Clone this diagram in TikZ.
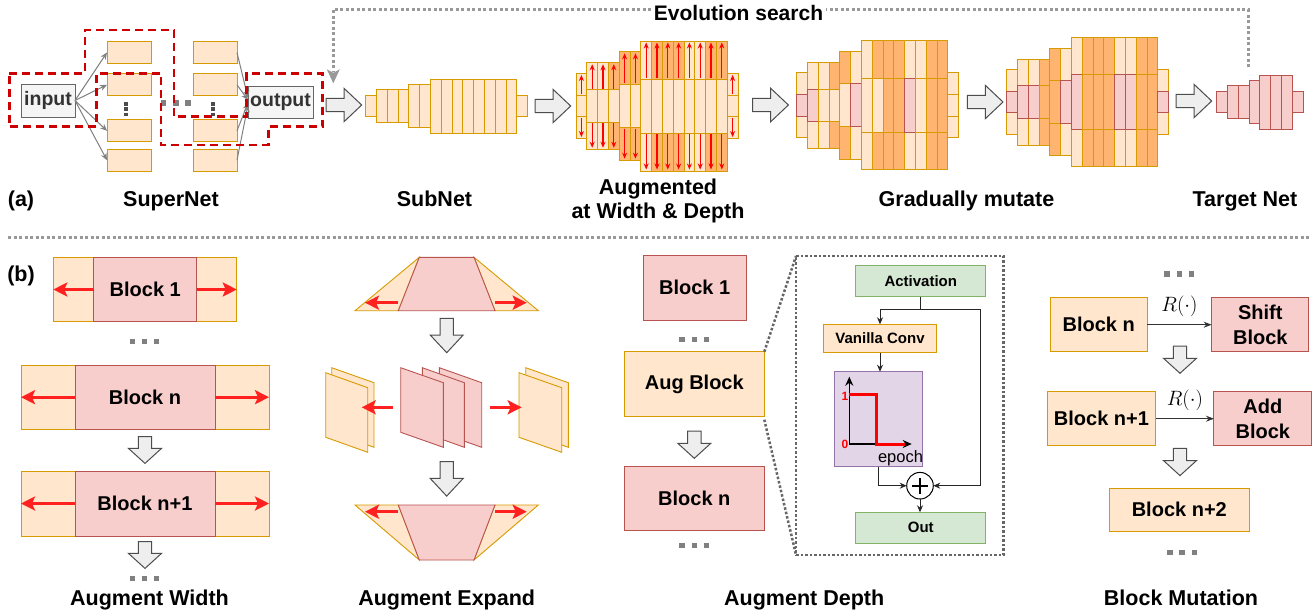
\documentclass[tikz,border=0pt]{standalone}
\usepackage{fontspec}
\setmainfont{Liberation Sans}
\usetikzlibrary{arrows.meta}
\definecolor{orF}{HTML}{FFE6CC}
\definecolor{orS}{HTML}{D79B00}
\definecolor{odF}{HTML}{FFB570}
\definecolor{pkF}{HTML}{F8CECC}
\definecolor{pkS}{HTML}{B85450}
\definecolor{grF}{HTML}{D5E8D4}
\definecolor{grS}{HTML}{82B366}
\definecolor{puF}{HTML}{E1D5E7}
\definecolor{puS}{HTML}{9673A6}
\definecolor{gbF}{HTML}{F5F5F5}
\definecolor{gbS}{HTML}{666666}
\definecolor{baF}{HTML}{EEEEEE}
\definecolor{baS}{HTML}{4D4D4D}
\definecolor{dashR}{HTML}{CC0000}
\definecolor{arR}{HTML}{FF2020}
\definecolor{dotG}{HTML}{999999}
\definecolor{sqG}{HTML}{808080}
\newcommand{\fsLab}{\fontsize{21.5}{24}\selectfont\bfseries}
\newcommand{\fsBlk}{\fontsize{20}{25}\selectfont\bfseries}
\newcommand{\fsSm}{\fontsize{15}{18}\selectfont\bfseries}
% horizontal block arrow: left x, center y
\newcommand{\harrow}[2]{\draw[barrow] (#1,#2-6.7) -- (#1+18,#2-6.7) -- (#1+18,#2-16.7) -- (#1+35.7,#2) -- (#1+18,#2+16.7) -- (#1+18,#2+6.7) -- (#1,#2+6.7) -- cycle;}
% vertical block arrow: center x, top y, shaft length, head length
\newcommand{\darrow}[4]{\draw[barrow] (#1-6.7,#2) -- (#1-6.7,#2+#3) -- (#1-16.5,#2+#3) -- (#1,#2+#3+#4) -- (#1+16.5,#2+#3) -- (#1+6.7,#2+#3) -- (#1+6.7,#2) -- cycle;}
% three gray squares centred at x,y
\newcommand{\gsq}[2]{\draw[gdots] (#1-14.6,#2) -- (#1+15,#2);}
% network: left x, centre y, list, arrows flag
\newcommand{\drawnet}[4]{%
  \foreach \ci/\hh/\ee/\sa/\sb/\sc in {#3}{%
    \pgfmathsetmacro\xl{#1+\ci*10.8}%
    \pgfmathsetmacro\xr{\xl+10.8}%
    \pgfmathsetmacro\xm{\xl+5.4}%
    \pgfmathsetmacro\ya{#2-\hh/2}%
    \pgfmathsetmacro\yb{#2+\hh/2}%
    \pgfmathsetmacro\yt{\ya-\ee}%
    \pgfmathsetmacro\ybb{\yb+\ee}%
    \ifdim\ee pt>0pt
      \filldraw[\sa] (\xl,\yt) rectangle (\xr,\ya);
      \filldraw[\sc] (\xl,\yb) rectangle (\xr,\ybb);
      \ifnum#4=1
        \draw[uarr] (\xm,\ya-1) -- (\xm,\yt+1.5);
        \draw[uarr] (\xm,\yb+1) -- (\xm,\ybb-1.5);
      \fi
    \fi
    \filldraw[\sb] (\xl,\ya) rectangle (\xr,\yb);
  }}
\begin{document}
\begin{tikzpicture}[x=1pt,y=-1pt,
  every node/.style={inner sep=0pt, outer sep=0pt},
  lbl/.style={font=\fsLab, anchor=base, align=center},
  orbox/.style={font=\fsBlk, align=center, draw=orS, fill=orF, line width=1pt, rectangle},
  pkbox/.style={font=\fsBlk, align=center, draw=pkS, fill=pkF, line width=1pt, rectangle},
  grbox/.style={font=\fsSm, draw=grS, fill=grF, line width=1pt, rectangle},
  orsm/.style={font=\fsSm, draw=orS, fill=orF, line width=1pt, rectangle},
  pubox/.style={draw=puS, fill=puF, line width=1pt, rectangle},
  gbox/.style={font=\fontsize{19.5}{20}\selectfont\bfseries, text=black!80, draw=gbS, fill=gbF, line width=1pt, rectangle},
  sblk/.style={draw=orS, fill=orF, line width=1pt, rectangle, minimum width=44pt, minimum height=22pt},
  cL/.style={draw=orS, fill=orF, line width=0.9pt},
  cD/.style={draw=orS, fill=odF, line width=0.9pt},
  cP/.style={draw=pkS, fill=pkF, line width=0.9pt},
  barrow/.style={fill=baF, draw=baS, line width=1pt, line join=miter},
  garr/.style={draw=sqG, line width=1pt, -{Stealth[length=7pt,width=6pt]}},
  uarr/.style={draw=red, line width=1.3pt, -{Stealth[length=6pt,width=5pt]}},
  rarr/.style={draw=arR, line width=3pt, -{Stealth[length=14pt,width=14pt,inset=3pt]}},
  carr/.style={draw=black!85, line width=1pt, -{Stealth[length=7pt,width=6pt]}},
  marr/.style={draw=black!80, line width=1pt, -{Stealth[length=8pt,width=6pt]}},
  reddash/.style={draw=dashR, line width=2.5pt, dash pattern=on 8pt off 5pt},
  evo/.style={draw=dotG, line width=3pt, dash pattern=on 3pt off 2.5pt},
  dbox/.style={draw=gbS, line width=2.5pt, dash pattern=on 2.5pt off 2pt, rectangle},
  dline/.style={draw=gbS, line width=2.5pt, dash pattern=on 2.5pt off 2pt},
  gdots/.style={draw=sqG, line width=5.4pt, dash pattern=on 5.4pt off 6.8pt},
  vdots/.style={draw=black!70, line width=3.5pt, dash pattern=on 3.5pt off 1.8pt},
  plusnode/.style={circle, draw=black, fill=white, line width=1pt, minimum size=26.6pt,
    path picture={\draw[line width=1.8pt] ([xshift=-8pt]path picture bounding box.center) -- ([xshift=8pt]path picture bounding box.center);
                  \draw[line width=1.8pt] ([yshift=-8pt]path picture bounding box.center) -- ([yshift=8pt]path picture bounding box.center);}}
]
\useasboundingbox (0,0) rectangle (1315,613);
\fill[white] (0,0) rectangle (1315,613);

% ================= (a) SuperNet =================
\node[gbox, minimum width=54pt, minimum height=33pt] (inp) at (48,100.5) {input};
\node[gbox, minimum width=65pt, minimum height=32pt] (outp) at (280.5,102) {output};
\node[sblk] (a1) at (129,52.5) {};
\node[sblk] (a2) at (129,84.8) {};
\node[sblk] (a3) at (129,130.8) {};
\node[sblk] (a4) at (129,160.2) {};
\node[sblk] (b1) at (215,52.5) {};
\node[sblk] (b2) at (215,84.8) {};
\node[sblk] (b3) at (215,130.8) {};
\node[sblk] (b4) at (215,160.2) {};
\foreach \t in {a1,a2,a3,a4}{\draw[garr] (inp.east) -- (\t.west);}
\draw[garr] (b1.east) -- ([yshift=4pt]outp.west);
\draw[garr] (b2.east) -- ([yshift=2pt]outp.west);
\draw[garr] (b3.east) -- ([yshift=-1pt]outp.west);
\draw[garr] (b4.east) -- ([yshift=-3pt]outp.west);
\draw[vdots] (126,102) -- (126,116.5);
\draw[vdots] (213,102) -- (213,116.5);
\gsq{175.5}{103}
\draw[reddash] (9.3,73.3) -- (85,73.3) -- (85,30) -- (174,30) -- (174,116.7) -- (246.7,116.7) -- (246.7,73.3) -- (322.7,73.3) -- (322.7,126.7) -- (268.3,126.7) -- (268.3,145) -- (161,145) -- (161,73.3) -- (96.7,73.3) -- (96.7,126.7) -- (9.3,126.7) -- cycle;

% Evolution search loop
\coordinate (evA) at (1248,67);
\coordinate (evB) at (333.3,83.3);
\draw[evo] (evA) -- (1248,9.3) -- (333.3,9.3) -- ([yshift=12pt]evB);
\fill[dotG] (evB) -- ++(-6.5,-14) -- ++(6.5,3.5) -- ++(6.5,-3.5) -- cycle;
\node[font=\fontsize{21}{21}\selectfont\bfseries, fill=white, inner xsep=3pt, anchor=base] (evt) at (738.5,20) {Evolution search};

% block arrows of row (a)
\harrow{326}{105}
\harrow{535}{106}
\harrow{752.7}{105}
\harrow{967.3}{102}
\harrow{1176}{101}

% SubNet
\drawnet{365.7}{106}{0/21.7/0/cL/cL/cL,1/32.5/0/cL/cL/cL,2/32.5/0/cL/cL/cL,3/32.5/0/cL/cL/cL,4/43.3/0/cL/cL/cL,5/43.3/0/cL/cL/cL,6/54/0/cL/cL/cL,7/54/0/cL/cL/cL,8/54/0/cL/cL/cL,9/54/0/cL/cL/cL,10/54/0/cL/cL/cL,11/54/0/cL/cL/cL,12/54/0/cL/cL/cL,13/54/0/cL/cL/cL,14/21.7/0/cL/cL/cL}{0}

% Augmented
\drawnet{576}{106}{0/21.7/21.7/cL/cL/cL,1/32.5/27/cL/cL/cL,2/32.5/27/cL/cL/cL,3/32.5/27/cD/cL/cD,4/43.3/32.5/cD/cL/cD,5/43.3/32.5/cD/cL/cD,6/54/38/cL/cL/cL,7/54/38/cD/cL/cD,8/54/38/cD/cL/cD,9/54/38/cD/cL/cD,10/54/38/cL/cL/cL,11/54/38/cL/cL/cL,12/54/38/cD/cL/cD,13/54/38/cD/cL/cD,14/21.7/21.7/cL/cL/cL}{1}

% Gradually mutate 1
\drawnet{796.7}{105.2}{0/21.7/21.6/cL/cP/cL,1/32.3/26.7/cL/cP/cL,2/32.3/26.7/cL/cL/cL,3/32.3/26.7/cD/cL/cD,4/43.4/32.3/cD/cL/cD,5/43.4/32.3/cL/cP/cL,6/54/37.7/cL/cL/cL,7/54/37.7/cD/cL/cD,8/54/37.7/cD/cD/cD,9/54/37.7/cD/cD/cD,10/54/37.7/cL/cP/cL,11/54/37.7/cL/cL/cL,12/54/37.7/cD/cD/cD,13/54/37.7/cD/cD/cD,14/21.7/21.7/cL/cL/cL}{0}

% Gradually mutate 2
\drawnet{1006.7}{102}{0/21.7/21.7/cL/cP/cL,1/32.6/26.7/cL/cP/cL,2/32.6/26.7/cL/cP/cL,3/32.6/26.7/cD/cD/cD,4/43/32.4/cD/cD/cD,5/43/32.4/cL/cP/cL,6/54.3/37.7/cL/cP/cL,7/54.3/37.7/cD/cD/cD,8/54.3/37.7/cD/cD/cD,9/54.3/37.7/cD/cD/cD,10/54.3/37.7/cL/cP/cL,11/54.3/37.7/cL/cP/cL,12/54.3/37.7/cD/cD/cD,13/54.3/37.7/cD/cD/cD,14/21.7/21.7/cL/cP/cL}{0}

% Target net
\drawnet{1216.7}{102}{0/21.7/0/cP/cP/cP,1/32.6/0/cP/cP/cP,2/32.6/0/cP/cP/cP,3/43.3/0/cP/cP/cP,4/54/0/cP/cP/cP,5/54/0/cP/cP/cP,6/54/0/cP/cP/cP,7/21.7/0/cP/cP/cP}{0}

% labels (a)
\node[lbl] (la) at (21,206.7) {(a)};
\node[lbl] (lsup) at (171,206.7) {SuperNet};
\node[lbl] (lsub) at (434.5,206.7) {SubNet};
\node[lbl, anchor=north] (laug) at (658,179) {Augmented\\at Width \& Depth};
\node[lbl] (lgm) at (966.5,206.7) {Gradually mutate};
\node[lbl] (ltn) at (1245,206.7) {Target Net};

% separator
\draw[evo] (8,237) -- (1310,237);

% ================= (b) =================
\node[lbl] (lb) at (21,281) {(b)};

% Augment Width
\node[orbox, minimum width=183.4pt, minimum height=64.4pt] (w1o) at (145,289.5) {};
\node[pkbox, minimum width=102.7pt, minimum height=64.4pt] (w1i) at (145.3,289.5) {Block 1};
\draw[rarr] (w1i.west) -- (w1o.west);
\draw[rarr] (w1i.east) -- (w1o.east);
\gsq{144.3}{341.7}
\node[orbox, minimum width=248pt, minimum height=64.3pt] (wno) at (145,397.2) {};
\node[pkbox, minimum width=140pt, minimum height=64.3pt] (wni) at (145,397.2) {Block n};
\draw[rarr] (wni.west) -- (wno.west);
\draw[rarr] (wni.east) -- (wno.east);
\darrow{145}{436.7}{11.7}{15}
\node[orbox, minimum width=248pt, minimum height=65pt] (wmo) at (145,503.5) {};
\node[pkbox, minimum width=140pt, minimum height=65pt] (wmi) at (145,503.5) {Block n+1};
\draw[rarr] (wmi.west) -- (wmo.west);
\draw[rarr] (wmi.east) -- (wmo.east);
\darrow{145}{541.7}{11.7}{15}
\gsq{144.3}{578.7}
\node[lbl] (lw) at (149.5,605.7) {Augment Width};

% Augment Expand
\filldraw[cL] (419.3,257.3) -- (355,310.7) -- (398.3,310.7) -- cycle;
\filldraw[cL] (474,257.3) -- (538.3,310.7) -- (495,310.7) -- cycle;
\filldraw[cP] (419.3,257.3) -- (474,257.3) -- (495,310.7) -- (398.3,310.7) -- cycle;
\draw[rarr] (398.3,302.7) -- (365,302.7);
\draw[rarr] (495,302.7) -- (526.7,302.7);
\darrow{446.7}{318.3}{16.7}{17.7}
\filldraw[cL] (331.7,367.7) -- (374,382.7) -- (374,447.3) -- (331.7,432.3) -- cycle;
\filldraw[cL] (325.7,372.7) -- (367.7,387.7) -- (367.7,452.3) -- (325.7,437.3) -- cycle;
\filldraw[cP] (439.3,367.7) -- (481.7,382.7) -- (481.7,447.3) -- (439.3,432.3) -- cycle;
\filldraw[cP] (422.3,367.7) -- (464.3,382.7) -- (464.3,447.3) -- (422.3,432.3) -- cycle;
\filldraw[cP] (400.7,367.7) -- (443.3,382.7) -- (443.3,447.3) -- (400.7,432.3) -- cycle;
\filldraw[cL] (525.7,367.7) -- (568.3,382.7) -- (568.3,447.3) -- (525.7,432.3) -- cycle;
\filldraw[cL] (519,372.7) -- (561.7,387.7) -- (561.7,452.3) -- (519,437.3) -- cycle;
\draw[rarr] (392.7,407.3) -- (361.7,407.3);
\draw[rarr] (490,407.3) -- (521.7,407.3);
\darrow{446.7}{461.7}{16.7}{17.7}
\filldraw[cL] (355,505) -- (398.3,505) -- (419.3,560) -- cycle;
\filldraw[cL] (538.3,505) -- (495,505) -- (474,560) -- cycle;
\filldraw[cP] (398.3,505) -- (495,505) -- (474,560) -- (419.3,560) -- cycle;
\draw[rarr] (398.3,511.7) -- (365,511.7);
\draw[rarr] (495,511.7) -- (526.7,511.7);
\node[lbl] (le) at (446.7,605.7) {Augment Expand};

% Augment Depth
\node[pkbox, minimum width=102.7pt, minimum height=65pt] (d1) at (694.7,287.5) {Block 1};
\gsq{694}{339.7}
\node[orbox, minimum width=140pt, minimum height=65pt] (aug) at (694.3,384.2) {Aug Block};
\darrow{694.3}{431}{12.3}{15}
\node[pkbox, minimum width=140pt, minimum height=64.3pt] (dn) at (694.3,498.8) {Block n};
\gsq{694}{545.7}
\node[dbox, minimum width=207.3pt, minimum height=299pt] (dbx) at (899.7,405.5) {};
\draw[dline] (aug.north east) -- (dbx.north west);
\draw[dline] ([yshift=-3pt]aug.south east) -- (dbx.south west);
\node[grbox, minimum width=129.7pt, minimum height=31pt] (act) at (920.8,281.2) {Activation};
\node[orsm, minimum width=113.4pt, minimum height=28.4pt] (van) at (880,338.5) {Vanilla Conv};
\node[pubox, minimum width=88.4pt, minimum height=95pt] (pur) at (878.5,419.2) {};
\node[plusnode] (plus) at (920,485.7) {};
\node[grbox, minimum width=129.7pt, minimum height=31pt] (outn) at (920.8,527.8) {Out};
\coordinate (rc) at (980,485.7);
\draw[carr] (act.south) -- ++(0,12.3) -| (van.north);
\draw[carr] (act.south) -- ++(0,12.3) -| (rc) -- (plus.east);
\draw[carr] (van.south) -- (van.south |- pur.north);
\draw[carr] (pur.south) |- (plus.west);
\draw[carr] (plus.south) -- (plus.south |- outn.north);
\coordinate (org) at (849.3,444);
\draw[line width=1.5pt, -{Stealth[length=9pt,width=8pt]}] (org) -- (849.3,376.7);
\draw[line width=1.5pt, -{Stealth[length=9pt,width=8pt]}] (org) -- (911.7,444);
\draw[draw=red, line width=3pt] (849.3,394.3) -- (876.7,394.3) -- (876.7,444) -- (905,444);
\node[text=red, font=\fontsize{12}{12}\selectfont\bfseries] (one) at (845,396.7) {1};
\node[text=red, font=\fontsize{12}{12}\selectfont\bfseries] (zero) at (845,444.3) {0};
\node[font=\fontsize{16.5}{18}\selectfont, anchor=base] (ep) at (900.5,462.7) {epoch};
\node[lbl] (ld) at (804.2,605.7) {Augment Depth};

% Block Mutation
\gsq{1179}{273.8}
\node[orbox, minimum width=97.3pt, minimum height=54pt] (bn) at (1098.7,324.7) {Block n};
\node[pkbox, minimum width=97.3pt, minimum height=54pt] (sh) at (1260.3,324.7) {Shift\\Block};
\draw[marr] (bn.east) -- node[midway, above=8pt, font=\fontsize{20}{20}\selectfont] (r1) {$R(\cdot)$} (sh.west);
\darrow{1180}{346}{12.3}{15}
\node[orbox, minimum width=108.4pt, minimum height=54pt] (bn1) at (1101.5,418.7) {Block n+1};
\node[pkbox, minimum width=97.7pt, minimum height=54pt] (ad) at (1262.8,418.7) {Add\\Block};
\draw[marr] (bn1.east) -- node[midway, above=8pt, font=\fontsize{20}{20}\selectfont] (r2) {$R(\cdot)$} (ad.west);
\darrow{1180}{448.3}{12.3}{15}
\node[orbox, minimum width=140pt, minimum height=42.7pt] (bn2) at (1179.3,509.7) {Block n+2};
\gsq{1181.7}{552.2}
\node[lbl] (lm) at (1181,605.7) {Block Mutation};
\end{tikzpicture}
\end{document}
